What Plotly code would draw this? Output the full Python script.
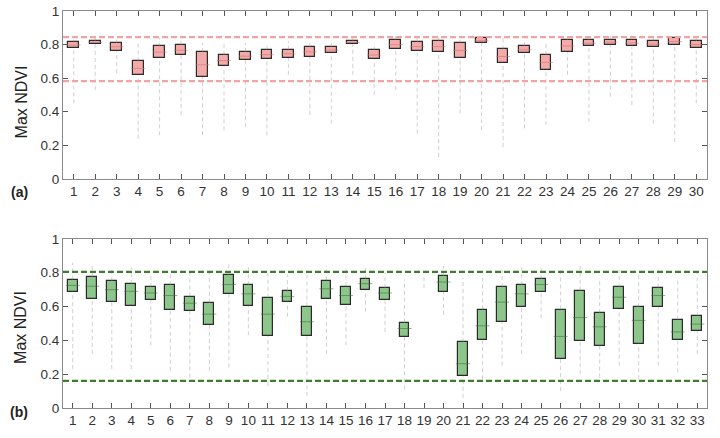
import plotly.graph_objects as go

# ---------------- data: panel (a) ----------------
cat_a = list(range(1, 31))
q1_a = [0.779, 0.803, 0.763, 0.617, 0.720, 0.736, 0.607, 0.675, 0.706, 0.712,
        0.720, 0.728, 0.750, 0.803, 0.712, 0.771, 0.761, 0.755, 0.722, 0.809,
        0.688, 0.748, 0.651, 0.755, 0.791, 0.799, 0.789, 0.783, 0.795, 0.779]
med_a = [0.797, 0.813, 0.787, 0.658, 0.755, 0.767, 0.680, 0.705, 0.731, 0.740,
         0.745, 0.757, 0.767, 0.813, 0.738, 0.800, 0.788, 0.788, 0.765, 0.823,
         0.729, 0.769, 0.694, 0.792, 0.808, 0.814, 0.810, 0.803, 0.818, 0.800]
q3_a = [0.813, 0.822, 0.809, 0.700, 0.789, 0.797, 0.755, 0.738, 0.757, 0.769,
        0.769, 0.785, 0.783, 0.824, 0.765, 0.828, 0.815, 0.820, 0.807, 0.838,
        0.771, 0.789, 0.738, 0.828, 0.826, 0.830, 0.830, 0.824, 0.840, 0.820]
lo_a = [0.45, 0.53, 0.63, 0.24, 0.26, 0.38, 0.26, 0.29, 0.31, 0.26,
        0.62, 0.38, 0.33, 0.62, 0.50, 0.53, 0.27, 0.13, 0.39, 0.29,
        0.19, 0.30, 0.32, 0.62, 0.34, 0.49, 0.44, 0.33, 0.22, 0.45]
hi_a = [0.83, 0.84, 0.83, 0.81, 0.84, 0.84, 0.81, 0.81, 0.81, 0.81,
        0.82, 0.82, 0.83, 0.84, 0.81, 0.85, 0.85, 0.85, 0.84, 0.85,
        0.84, 0.82, 0.81, 0.85, 0.85, 0.85, 0.86, 0.85, 0.85, 0.84]
ref_a = [0.845, 0.582]

# ---------------- data: panel (b) ----------------
cat_b = list(range(1, 34))
q1_b = [0.689, 0.644, 0.626, 0.602, 0.640, 0.581, 0.575, 0.492, 0.673, 0.606,
        0.425, 0.630, 0.425, 0.644, 0.608, 0.699, 0.640, 0.419, None, 0.685,
        0.189, 0.400, 0.508, 0.596, 0.689, 0.293, 0.396, 0.370, 0.585, 0.382,
        0.596, 0.400, 0.455]
med_b = [0.725, 0.720, 0.700, 0.690, 0.680, 0.665, 0.620, 0.555, 0.730, 0.675,
         0.555, 0.660, 0.510, 0.705, 0.665, 0.735, 0.680, 0.470, None, 0.745,
         0.262, 0.486, 0.626, 0.675, 0.730, 0.423, 0.535, 0.480, 0.655, 0.518,
         0.665, 0.450, 0.496]
q3_b = [0.760, 0.774, 0.752, 0.734, 0.715, 0.726, 0.659, 0.622, 0.785, 0.726,
        0.652, 0.691, 0.600, 0.754, 0.719, 0.762, 0.709, 0.504, None, 0.781,
        0.390, 0.583, 0.715, 0.726, 0.762, 0.583, 0.693, 0.561, 0.715, 0.596,
        0.711, 0.522, 0.543]
lo_b = [0.23, 0.32, 0.23, 0.23, 0.37, 0.22, 0.18, 0.22, 0.24, 0.43,
        0.13, 0.54, 0.07, 0.32, 0.37, 0.57, 0.45, 0.11, 0.71, 0.55,
        0.06, 0.17, 0.25, 0.32, 0.53, 0.10, 0.20, 0.18, 0.25, 0.17,
        0.25, 0.21, 0.32]
hi_b = [0.86, 0.85, 0.82, 0.83, 0.78, 0.80, 0.80, 0.80, 0.85, 0.83,
        0.80, 0.79, 0.79, 0.84, 0.84, 0.84, 0.80, 0.76, 0.79, 0.84,
        0.77, 0.77, 0.82, 0.83, 0.83, 0.82, 0.84, 0.77, 0.82, 0.80,
        0.83, 0.76, 0.80]
ref_b = [0.805, 0.16]

y_ticks = [0, 0.2, 0.4, 0.6, 0.8, 1]
y_ticktext = ["0", "0.2", "0.4", "0.6", "0.8", "1"]

PINK = "#f4aaa9"
PINK_LINE = "#f2a3a3"
GREEN = "#8dc68a"
GREEN_LINE = "#3f7d2e"
EDGE = "#2b2b2b"
FONT = "Liberation Sans, Arial, sans-serif"

fig = go.Figure()


def add_panel(cats, q1, med, q3, lo, hi, fill, med_color, xa, ya):
    # whiskers / outlier extents (gray, dashed)
    wx, wy = [], []
    for c, a, b, l, h in zip(cats, q1, q3, lo, hi):
        if a is None:
            wx += [c, c, None]
            wy += [l, h, None]
        else:
            wx += [c, c, None, c, c, None]
            wy += [b, h, None, l, a, None]
    fig.add_trace(go.Scatter(x=wx, y=wy, mode="lines",
                             line=dict(color="rgba(150,150,150,0.45)", width=1, dash="4px,3px"),
                             xaxis=xa, yaxis=ya, hoverinfo="skip", showlegend=False))
    # boxes as floating bars
    heights = [None if a is None else b - a for a, b in zip(q1, q3)]
    fig.add_trace(go.Bar(x=cats, y=heights, base=q1, width=0.5,
                         marker=dict(color=fill, line=dict(color=EDGE, width=1.2)),
                         xaxis=xa, yaxis=ya, showlegend=False))
    # medians
    fig.add_trace(go.Scatter(x=cats, y=med, mode="markers",
                             marker=dict(symbol="line-ew", size=10,
                                         line=dict(color=med_color, width=1)),
                             xaxis=xa, yaxis=ya, hoverinfo="skip", showlegend=False))


add_panel(cat_a, q1_a, med_a, q3_a, lo_a, hi_a, PINK, "rgba(200,120,120,0.6)", "x", "y")
add_panel(cat_b, q1_b, med_b, q3_b, lo_b, hi_b, GREEN, "rgba(60,110,60,0.55)", "x2", "y2")

# reference lines
for v in ref_a:
    fig.add_shape(type="line", xref="x domain", yref="y", x0=0, x1=1, y0=v, y1=v,
                  line=dict(color=PINK_LINE, width=2.2, dash="6px,3px"))
for v in ref_b:
    fig.add_shape(type="line", xref="x2 domain", yref="y2", x0=0, x1=1, y0=v, y1=v,
                  line=dict(color=GREEN_LINE, width=2.2, dash="6px,3px"))

axis_common = dict(showline=True, linecolor="#8a8a8a", linewidth=1, mirror="ticks",
                   ticks="inside", ticklen=5, tickcolor="#555555", showgrid=False,
                   zeroline=False, automargin=False,
                   tickfont=dict(family=FONT, size=13.5, color="#333333"))

fig.update_layout(
    template="none",
    width=720, height=438,
    margin=dict(l=63, r=13, t=11, b=30, pad=0),
    plot_bgcolor="white", paper_bgcolor="white",
    barmode="overlay", bargap=0,
    font=dict(family=FONT),
    xaxis=dict(domain=[0, 1], anchor="y", range=[0.5, 30.5], tickmode="array",
               tickvals=cat_a, ticktext=[str(c) for c in cat_a], **axis_common),
    yaxis=dict(domain=[0.577, 1], anchor="x", range=[0, 1], tickvals=y_ticks,
               ticktext=y_ticktext, **axis_common),
    xaxis2=dict(domain=[0, 1], anchor="y2", range=[0.5, 33.5], tickmode="array",
                tickvals=cat_b, ticktext=[str(c) for c in cat_b], **axis_common),
    yaxis2=dict(domain=[0, 0.426], anchor="x2", range=[0, 1], tickvals=y_ticks,
                ticktext=y_ticktext, **axis_common),
)

for ytxt, yy in [("Max NDVI", 0.77), ("Max NDVI", 0.202)]:
    fig.add_annotation(text=ytxt, xref="paper", yref="paper", x=-0.065, y=yy,
                       textangle=-90, showarrow=False, xanchor="center", yanchor="middle",
                       font=dict(family=FONT, size=16, color="#222222"))
for lbl, yy in [("<b>(a)</b>", 0.544), ("<b>(b)</b>", -0.01)]:
    fig.add_annotation(text=lbl, xref="paper", yref="paper", x=-0.068, y=yy,
                       showarrow=False, xanchor="center", yanchor="middle",
                       font=dict(family=FONT, size=14, color="#222222"))

# remove the browser's default 8px body margin so the figure sits at the page origin
fig.write_html("out.html", config={"displayModeBar": False},
               post_script="document.body.style.margin='0px';document.body.style.overflow='hidden';")
